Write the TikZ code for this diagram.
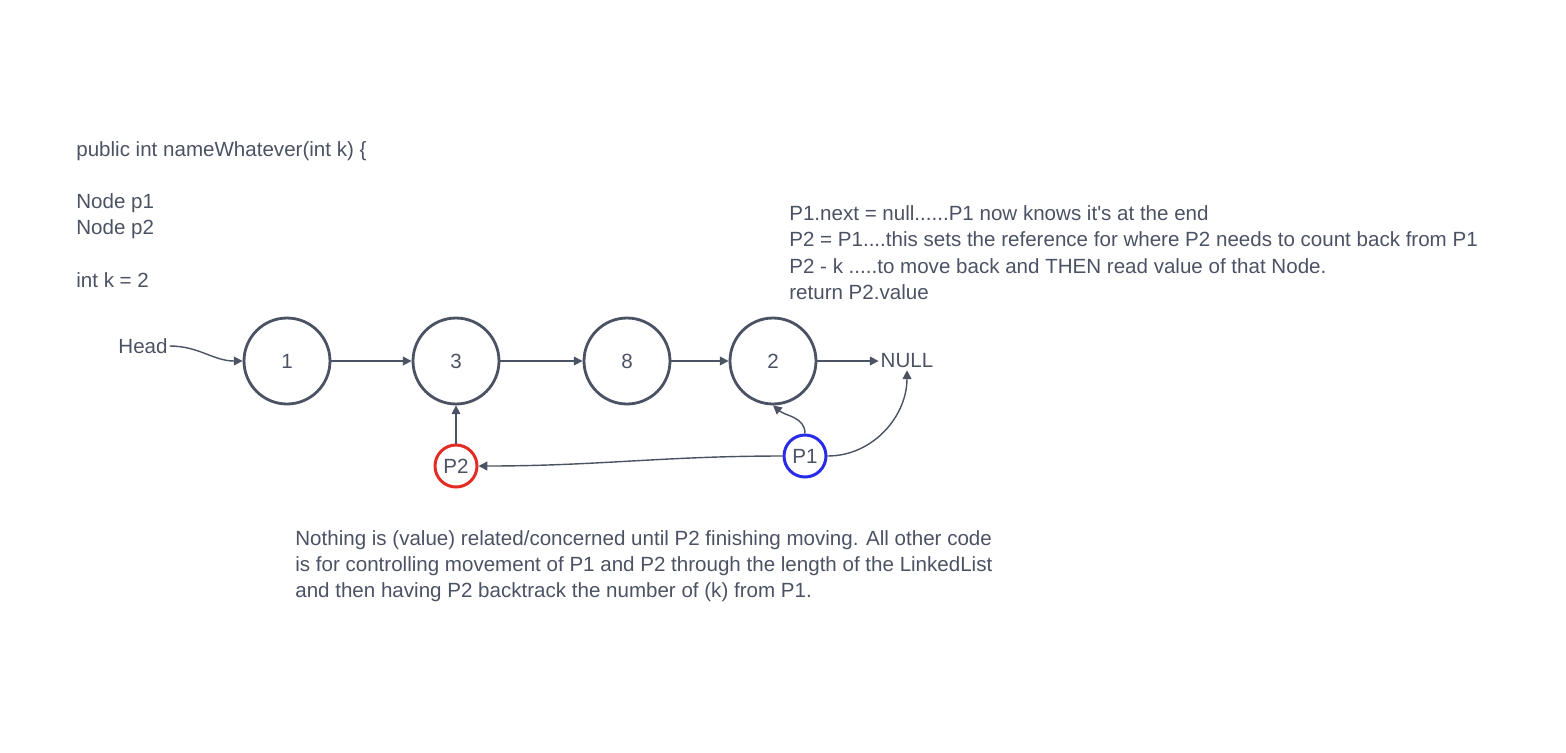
\documentclass[tikz,border=0pt]{standalone}
\usepackage{fontspec}
\setmainfont{Liberation Sans}
\usetikzlibrary{arrows.meta}

\definecolor{inkgray}{RGB}{75,82,99}
\definecolor{ptrred}{RGB}{226,44,36}
\definecolor{ptrblue}{RGB}{40,44,232}

\tikzset{
    listnode/.style={circle, draw=inkgray, line width=1.6pt, minimum size=1.72cm, inner sep=0pt, text=inkgray},
    ptrnode/.style={circle, line width=1.7pt, minimum size=0.84cm, inner sep=0pt, text=inkgray},
    note/.style={anchor=north west, align=left, inner sep=0pt, text=inkgray},
    link/.style={draw=inkgray, line width=0.8pt, -{Triangle[length=5pt, width=5pt]}}
}

\begin{document}
\begin{tikzpicture}[x=0.02cm, y=-0.02cm, font=\fontsize{11.7}{14.9}\selectfont]
        \useasboundingbox (0,0) rectangle (1566,752);

        \node[note] (code) at (76,141) {public int nameWhatever(int k) \{\\[14.9pt] Node p1\\ Node p2\\[14.9pt] int k = 2};
        \node[note, font=\fontsize{11.7}{15.1}\selectfont] (steps) at (789,205) {P1.next = null......P1 now knows it\textquotesingle s at the end\\ P2 = P1....this sets the reference for where P2 needs to count back from P1\\ P2 - k .....to move back and THEN read value of that Node.\\ return P2.value};
        \node[note] (remark) at (295,530) {Nothing is (value) related/concerned until P2 finishing moving. All other code\\ is for controlling movement of P1 and P2 through the length of the LinkedList\\ and then having P2 backtrack the number of (k) from P1.};

        \node[listnode] (n1) at (287,361) {1};
        \node[listnode] (n3) at (456,361) {3};
        \node[listnode] (n8) at (627,361) {8};
        \node[listnode] (n2) at (773,361) {2};
        \node[text=inkgray, inner sep=1pt] (null) at (907,361) {NULL};
        \node[text=inkgray, inner sep=1pt] (head) at (143,346) {Head};

        \node[ptrnode, draw=ptrred] (p2) at (456,466) {P2};
        \node[ptrnode, draw=ptrblue] (p1) at (805,456) {P1};

        \draw[link] (head.east) to[out=0, in=180] (n1.west);
        \draw[link] (n1) -- (n3);
        \draw[link] (n3) -- (n8);
        \draw[link] (n8) -- (n2);
        \draw[link] (n2) -- (null);

        \draw[link] (p2) -- (n3);
        \draw[link] (p1.north) to[out=90, in=-40] (n2.south);
        \draw[link] (p1.east) to[out=0, in=-90] (null.south);
        \draw[link] (p1.west) to[out=180, in=0] (p2.east);
    \end{tikzpicture}
\end{document}
